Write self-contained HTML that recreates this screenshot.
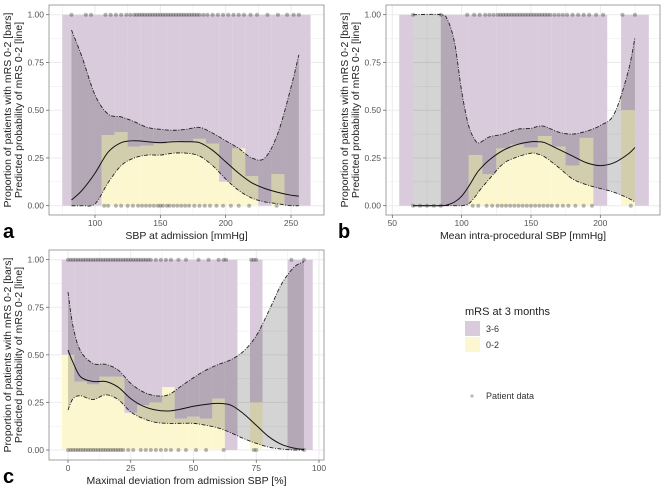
<!DOCTYPE html>
<html><head><meta charset="utf-8"><style>
body{margin:0;background:#fff;}
svg{display:block;font-family:"Liberation Sans",sans-serif;}
</style></head><body>
<svg id="fig" width="669" height="491" viewBox="0 0 669 491" xmlns="http://www.w3.org/2000/svg">
<g>
<text x="465" y="315" font-size="11" fill="#222">mRS at 3 months</text>
<rect x="465" y="321" width="15" height="15" fill="#d9cadc"/>
<text x="486" y="332" font-size="9" fill="#333">3-6</text>
<rect x="465" y="337" width="15" height="15" fill="#fdf7d0"/>
<text x="486" y="348" font-size="9" fill="#333">0-2</text>
<circle cx="472" cy="396" r="1.6" fill="#bbb"/>
<text x="486" y="399" font-size="9" fill="#333">Patient data</text>
</g>
</svg>
<script>
// ---------- Panel a ----------
const aBinStart=[75,85,95,105,115,125,135,145,155,165,175,185,195,205,215,225,235,245,255];
const aBinProp=[0,0,0,0.37,0.385,0.31,0.315,0.325,0.34,0.335,0.35,0.325,0.125,0.30,0.155,0,0.165,0,0];
const aCurveX=[82,90,100,110,120,130,140,150,160,170,180,190,200,210,220,230,240,250,256];
const aFit=[0.03,0.08,0.17,0.28,0.33,0.34,0.335,0.33,0.335,0.335,0.33,0.29,0.23,0.17,0.12,0.09,0.07,0.055,0.05];
const aLo=[0.0,0.0,0.01,0.12,0.21,0.25,0.265,0.265,0.275,0.275,0.26,0.21,0.14,0.08,0.04,0.02,0.01,0.0,0.0];
const aHi=[0.92,0.78,0.58,0.48,0.465,0.44,0.41,0.40,0.395,0.40,0.41,0.38,0.34,0.30,0.25,0.25,0.38,0.62,0.79];
const aPts1=[82,93,97,108,112,116,120,124,127,130,132,134,136,138,140,142,144,146,148,150,152,154,156,158,160,162,164,166,168,170,172,174,176,178,180,183,186,190,194,198,202,206,210,214,219,224,232,240,247,252,256];
const aPts0=[107,110,116,120,125,129,133,136,139,142,145,148,150,152,155,157,160,163,166,169,172,176,180,184,188,193,198,204,210,218,239];
const aXTicks=[100,150,200,250];
// ---------- Panel b ----------
const bBinStart=[55,105,115,125,135,145,155,165,175,185,195,215,225];
const bBinEnd=[65,115,125,135,145,155,165,175,185,195,205,225,235];
const bBinProp=[0,0.265,0.165,0.30,0.32,0.305,0.365,0.31,0.21,0.355,0,0.5,0];
const bBar85Start=[85];
const bBar85End=[105];
const bCurveX=[65,85,90,95,100,105,110,113,120,130,140,150,155,160,170,180,190,200,210,220,225];
const bFit=[0,0,0.005,0.02,0.05,0.1,0.16,0.19,0.24,0.29,0.32,0.335,0.335,0.33,0.295,0.26,0.225,0.21,0.225,0.27,0.305];
const bLo=[0,0,0,0,0,0.01,0.05,0.08,0.14,0.22,0.255,0.275,0.27,0.255,0.2,0.14,0.11,0.09,0.07,0.04,0.02];
const bHi=[1,1,0.97,0.85,0.6,0.42,0.34,0.33,0.36,0.375,0.40,0.405,0.415,0.415,0.385,0.375,0.39,0.42,0.48,0.7,0.88];
const bPts1=[65,85,104,109,113,117,120,123,126,128,130,132,134,136,138,140,142,144,146,148,150,152,154,156,158,160,162,164,167,170,173,176,180,184,188,192,197,202,216,225];
const bPts0=[65,70,75,80,85,108,112,118,122,126,129,132,135,138,141,144,147,150,153,156,159,162,165,169,173,177,182,188,194,222];
const bXTicks=[50,100,150,200];
// ---------- Panel c ----------
const cBinStart=[-2.5,2.5,7.5,12.5,22.5,27.5,32.5,37.5,42.5,47.5,52.5,57.5,62.5,72.5,87.5];
const cBinEnd=[2.5,7.5,12.5,22.5,27.5,32.5,37.5,42.5,47.5,52.5,57.5,62.5,67.5,77.5,97.5];
const cBinProp=[0.5,0.36,0.345,0.385,0.195,0.235,0.25,0.33,0.165,0.175,0.165,0.27,0,0.25,0];
const cCurveX=[0,2,5,10,15,20,25,30,35,40,45,50,55,60,65,70,75,80,85,90,94];
const cFit=[0.525,0.46,0.385,0.36,0.36,0.33,0.27,0.23,0.21,0.205,0.215,0.23,0.24,0.245,0.235,0.19,0.13,0.07,0.03,0.01,0.003];
const cLo=[0.21,0.27,0.285,0.265,0.29,0.265,0.2,0.165,0.145,0.14,0.14,0.14,0.13,0.115,0.09,0.06,0.035,0.015,0.005,0,0];
const cHi=[0.83,0.65,0.52,0.455,0.45,0.42,0.35,0.305,0.285,0.29,0.335,0.38,0.42,0.45,0.475,0.52,0.6,0.73,0.87,0.96,0.99];
const cPts1=[0,1,2,3,4,5,6,7,8,9,10,11,12,13,14,15,16,17,18,19,20,21,22,23,24,25,26,27,28,29,30,31,32,33,35,37,39,41,44,47,52,56,60,62,63,73,74,75,89,94];
const cPts0=[0,1,2,3,4,5,6,7,8,9,10,11,12,13,14,15,16,17,18,19,20,21,22,24,26,29,31,33,35,37,39,41,44,47,51,55,62,74,75,94];
const cXTicks=[0,25,50,75,100];
const yTicks=[0,0.25,0.5,0.75,1];
const yTickLabels=["0.00","0.25","0.50","0.75","1.00"];

const NS="http://www.w3.org/2000/svg";
const svg=document.getElementById('fig');
function mk(tag,attrs,parent){const e=document.createElementNS(NS,tag);for(const k in attrs)e.setAttribute(k,attrs[k]);(parent||svg).appendChild(e);return e;}
function smooth(pts){let d="M"+pts[0][0]+","+pts[0][1];for(let i=0;i<pts.length-1;i++){const p0=pts[i-1]||pts[i],p1=pts[i],p2=pts[i+1],p3=pts[i+2]||p2;
const c1x=p1[0]+(p2[0]-p0[0])/6,c1y=p1[1]+(p2[1]-p0[1])/6,c2x=p2[0]-(p3[0]-p1[0])/6,c2y=p2[1]-(p3[1]-p1[1])/6;d+=" C"+c1x+","+c1y+" "+c2x+","+c2y+" "+p2[0]+","+p2[1];}return d;}

function panel(o){
 const g=mk('g',{});
 
 
 const sx=v=>o.px0+(v-o.x0)*(o.px1-o.px0)/(o.x1-o.x0);
 const sy=v=>o.py0+(v)*(o.py1-o.py0);
 const L=o.L,R=o.R,T=o.T,B=o.B;
 mk('rect',{x:L,y:T,width:R-L,height:B-T,fill:'#fff'},g);
 const step=o.xTicks[1]-o.xTicks[0];
 for(let v=o.xTicks[0]-step/2;v<=o.xTicks[o.xTicks.length-1]+step;v+=step/2){const x=sx(v);if(x<L||x>R)continue;
  const gl=mk('line',{x1:x,x2:x,y1:T,y2:B,stroke:'#ebebeb','stroke-width':(Math.round((v-o.xTicks[0])/step*2)%2?0.5:1)},g);}
 for(let v=0;v<=1.0001;v+=0.125){const y=sy(v);const gl=mk('line',{x1:L,x2:R,y1:y,y2:y,stroke:'#ebebeb','stroke-width':(Math.round(v*8)%2?0.5:1)},g);}
 for(let i=0;i<o.bs.length;i++){
  const x0=sx(o.bs[i]),x1=sx(o.be[i]);const p=o.bp[i];
  const b1=mk('rect',{x:x0,y:sy(1),width:x1-x0,height:sy(p)-sy(1),fill:'#d9cadc'},g);
  
  
  if(p>0){const b2=mk('rect',{x:x0,y:sy(p),width:x1-x0,height:sy(0)-sy(p),fill:'#fdf7d0'},g);
  
  }
 }
 const up=o.cx.map((x,i)=>[sx(x),sy(o.hi[i])]),lo=o.cx.map((x,i)=>[sx(x),sy(o.lo[i])]);
 const loR=lo.slice().reverse();
 let d=smooth(up)+" L"+loR[0][0]+","+loR[0][1]+smooth(loR).slice(smooth(loR).indexOf(' '))+" Z";
 const rb=mk('path',{d:d,fill:'#000','fill-opacity':0.17},g);
 
 
 [[o.p1,1],[o.p0,0]].forEach(([arr,yv])=>arr.forEach(x=>{const c=mk('circle',{cx:sx(x),cy:sy(yv),r:2,fill:'#000','fill-opacity':0.28},g);
  
  }));
 const l1=mk('path',{d:smooth(up),fill:'none',stroke:'#222','stroke-width':0.9,'stroke-dasharray':'4,1.5,1,1.5'},g);
 
 
 const l2=mk('path',{d:smooth(lo),fill:'none',stroke:'#222','stroke-width':0.9,'stroke-dasharray':'4,1.5,1,1.5'},g);
 
 
 const fl=mk('path',{d:smooth(o.cx.map((x,i)=>[sx(x),sy(o.fit[i])])),fill:'none',stroke:'#111','stroke-width':1},g);
 
 
 mk('rect',{x:L,y:T,width:R-L,height:B-T,fill:'none',stroke:'#8a8a8a','stroke-width':0.8},g);
 o.xTicks.forEach(v=>{const x=sx(v);mk('line',{x1:x,x2:x,y1:B,y2:B+3,stroke:'#555','stroke-width':0.7},g);
  const t=mk('text',{x:x,y:B+11,'font-size':8.5,fill:'#555','text-anchor':'middle'},g);t.textContent=v;
  });
 yTicks.forEach((v,i)=>{const y=sy(v);mk('line',{x1:L-3,x2:L,y1:y,y2:y,stroke:'#555','stroke-width':0.7},g);
  const t=mk('text',{x:L-5,y:y+3,'font-size':8.5,fill:'#555','text-anchor':'end'},g);t.textContent=yTickLabels[i];
  });
 const xt=mk('text',{x:(L+R)/2,y:B+24,'font-size':10.5,fill:'#222','text-anchor':'middle'},g);xt.textContent=o.xTitle;
 
 const yc=(T+B)/2;
 const y1=mk('text',{x:0,y:0,'font-size':10.5,fill:'#222','text-anchor':'middle',transform:`translate(${L-38},${yc}) rotate(-90)`},g);y1.textContent="Proportion of patients with mRS 0-2 [bars]";
 
 const y2=mk('text',{x:0,y:0,'font-size':10.5,fill:'#222','text-anchor':'middle',transform:`translate(${L-27},${yc}) rotate(-90)`},g);y2.textContent="Predicted probability of mRS 0-2 [line]";
 
 const pl=mk('text',{x:o.letX,y:B+23,'font-size':20,'font-weight':'bold',fill:'#000'},g);pl.textContent=o.letter;
 
}
panel({name:'panel-a',L:49,R:324,T:5,B:215,x0:100,x1:250,px0:95,px1:291,py0:205.7,py1:14.7,
 bs:aBinStart,be:aBinStart.map(v=>v+10),bp:aBinProp,cx:aCurveX,fit:aFit,lo:aLo,hi:aHi,p1:aPts1,p0:aPts0,xTicks:aXTicks,
 xTitle:'SBP at admission [mmHg]',letter:'a',letX:3});
panel({name:'panel-b',L:386,R:660,T:5,B:215,x0:50,x1:200,px0:392.3,px1:600.3,py0:205.7,py1:14.7,
 bs:bBinStart.concat(bBar85Start),be:bBinEnd.concat(bBar85End),bp:bBinProp.concat([0]),cx:bCurveX,fit:bFit,lo:bLo,hi:bHi,p1:bPts1,p0:bPts0,xTicks:bXTicks,
 xTitle:'Mean intra-procedural SBP [mmHg]',letter:'b',letX:338});
panel({name:'panel-c',L:49,R:324,T:250,B:460,x0:0,x1:100,px0:68,px1:319,py0:450,py1:259.7,
 bs:cBinStart,be:cBinEnd,bp:cBinProp,cx:cCurveX,fit:cFit,lo:cLo,hi:cHi,p1:cPts1,p0:cPts0,xTicks:cXTicks,
 xTitle:'Maximal deviation from admission SBP [%]',letter:'c',letX:3});
</script>
</body></html>
